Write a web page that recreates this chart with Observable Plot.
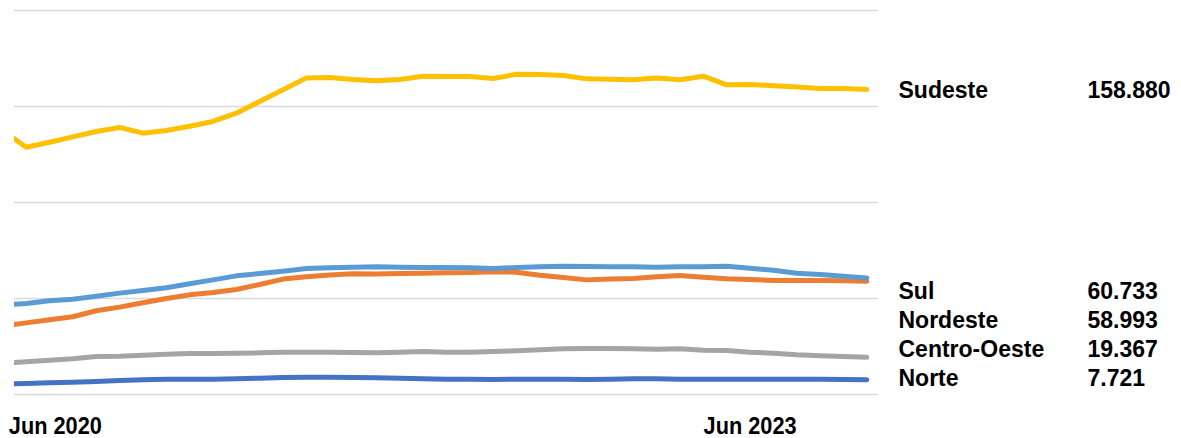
<!DOCTYPE html>
<html>
<head>
<meta charset="utf-8">
<script src="https://cdn.jsdelivr.net/npm/d3@7"></script>
<script src="https://cdn.jsdelivr.net/npm/@observablehq/plot@0.6"></script>
<style>
  html, body { margin: 0; padding: 0; background: #ffffff; }
  #chart { width: 1181px; height: 438px; overflow: hidden; }
</style>
</head>
<body>
<div id="chart"></div>
<script>
// Series names and colours (Excel series order)
const names = ["Norte", "Nordeste", "Centro-Oeste", "Sudeste", "Sul"];
const colors = ["#4472C4", "#ED7D31", "#A5A5A5", "#FFC000", "#5B9BD5"];

// Values in thousands, one per period (first period lies just left of the plot area)
const norte = [5.4,5.7,6.1,6.4,6.8,7.3,7.7,8.0,8.0,8.0,8.2,8.5,8.9,9.0,9.0,8.9,8.7,8.5,8.2,8.0,8.0,7.8,8.0,8.0,8.0,7.8,8.0,8.2,8.2,8.0,8.0,8.0,8.0,8.0,8.0,8.0,7.8,7.721];
const nordeste = [35.7,37.3,38.9,40.5,43.6,45.5,47.8,50.0,51.9,53.1,54.7,57.3,60.1,61.3,62.3,62.9,62.7,63.0,63.2,63.4,63.5,63.9,63.7,62.1,60.9,59.7,60.1,60.4,61.3,62.0,61.1,60.3,59.9,59.4,59.4,59.4,59.2,58.993];
const centroOeste = [16.3,17.0,17.9,18.6,19.8,19.9,20.5,21.0,21.4,21.4,21.5,21.7,22.0,22.0,22.0,21.9,21.7,22.0,22.4,22.0,22.0,22.4,22.8,23.3,23.8,24.0,24.0,23.8,23.6,23.8,23.1,22.9,22.0,21.5,20.7,20.2,19.8,19.367];
const sudeste = [137.5,128.8,131.4,134.2,137.0,139.1,136.1,137.5,139.7,142.2,146.5,152.6,158.7,164.9,165.1,164.1,163.4,164.1,165.8,165.6,165.6,164.6,166.8,166.7,166.1,164.4,164.2,163.9,164.9,163.9,165.8,161.3,161.5,160.8,160.1,159.4,159.4,158.88];
const sul = [46.7,47.4,48.8,49.6,51.2,52.8,54.2,55.6,57.7,59.7,61.8,63.0,64.2,65.6,66.0,66.3,66.5,66.3,66.1,66.1,66.0,65.6,66.1,66.5,66.8,66.7,66.5,66.5,66.3,66.5,66.5,66.8,65.8,64.7,63.2,62.5,61.6,60.733];
const seriesValues = [norte, nordeste, centroOeste, sudeste, sul];

// X tick labels and the period index they sit at
const tickLabels = ["Jun 2020", "Jun 2023"];
const tickIndex = [2.25, 32];

// Y gridlines (thousands)
const gridValues = [0, 50, 100, 150, 200];

// ---- build table ----
const rows = [];
names.forEach((name, s) => {
  seriesValues[s].forEach((v, i) => rows.push({ name, i, v }));
});

const fmtPt = d3.formatLocale({ decimal: ",", thousands: ".", grouping: [3], currency: ["R$", ""] }).format(",d");

// Right-hand labels: top series alone at its own end value, the rest stacked upward from the lowest
const ends = names.map((name, s) => ({ name, last: seriesValues[s][seriesValues[s].length - 1] }));
const sortedAsc = [...ends].sort((a, b) => a.last - b.last);
const topLabel = sortedAsc[sortedAsc.length - 1];
const stacked = sortedAsc.slice(0, -1);
const lowest = stacked[0].last;
const rowGap = 29;
const labelMarks = [];
function addLabel(d, anchor, offset) {
  labelMarks.push(Plot.text([d], {
    y: () => anchor, text: d => d.name, frameAnchor: "right", dx: 20, dy: offset,
    textAnchor: "start", fontSize: 23, fontWeight: "bold", fill: "#000"
  }));
  labelMarks.push(Plot.text([d], {
    y: () => anchor, text: d => fmtPt(Math.round(d.last * 1000)), frameAnchor: "right", dx: 209, dy: offset,
    textAnchor: "start", fontSize: 23, fontWeight: "bold", fill: "#000"
  }));
}
addLabel(topLabel, topLabel.last, 1);
stacked.forEach((d, k) => addLabel(d, lowest, -1 - rowGap * k));

const tickMap = new Map(tickIndex.map((t, k) => [t, tickLabels[k]]));

const chart = Plot.plot({
  width: 1181,
  height: 438,
  marginLeft: 14,
  marginRight: 303,
  marginTop: 10,
  marginBottom: 44,
  x: { domain: [0.5, 37.5], axis: null },
  y: { domain: [0, 200], axis: null },
  color: { domain: names, range: colors },
  style: { fontFamily: "'Liberation Sans', Arial, sans-serif", background: "#ffffff", overflow: "visible" },
  marks: [
    Plot.gridY(gridValues, { stroke: "#d9d9d9", strokeOpacity: 1, strokeWidth: 1.5 }),
    Plot.lineY(rows, {
      x: "i", y: "v", z: "name", stroke: "name", strokeWidth: 5,
      strokeLinecap: "round", strokeLinejoin: "round", clip: true
    }),
    Plot.axisX(tickIndex, {
      label: null, tickSize: 0, tickPadding: 22, tickFormat: d => tickMap.get(d),
      fontSize: 24, fontWeight: "bold", fill: "#000",
      fontFamily: "'Liberation Sans', Arial, sans-serif"
    }),
    ...labelMarks
  ]
});
// condensed look of the date labels (Arial Narrow style)
d3.select(chart).selectAll("g[aria-label='x-axis tick label'] text")
  .attr("textLength", 93).attr("lengthAdjust", "spacingAndGlyphs");
document.getElementById("chart").appendChild(chart);
</script>
</body>
</html>
